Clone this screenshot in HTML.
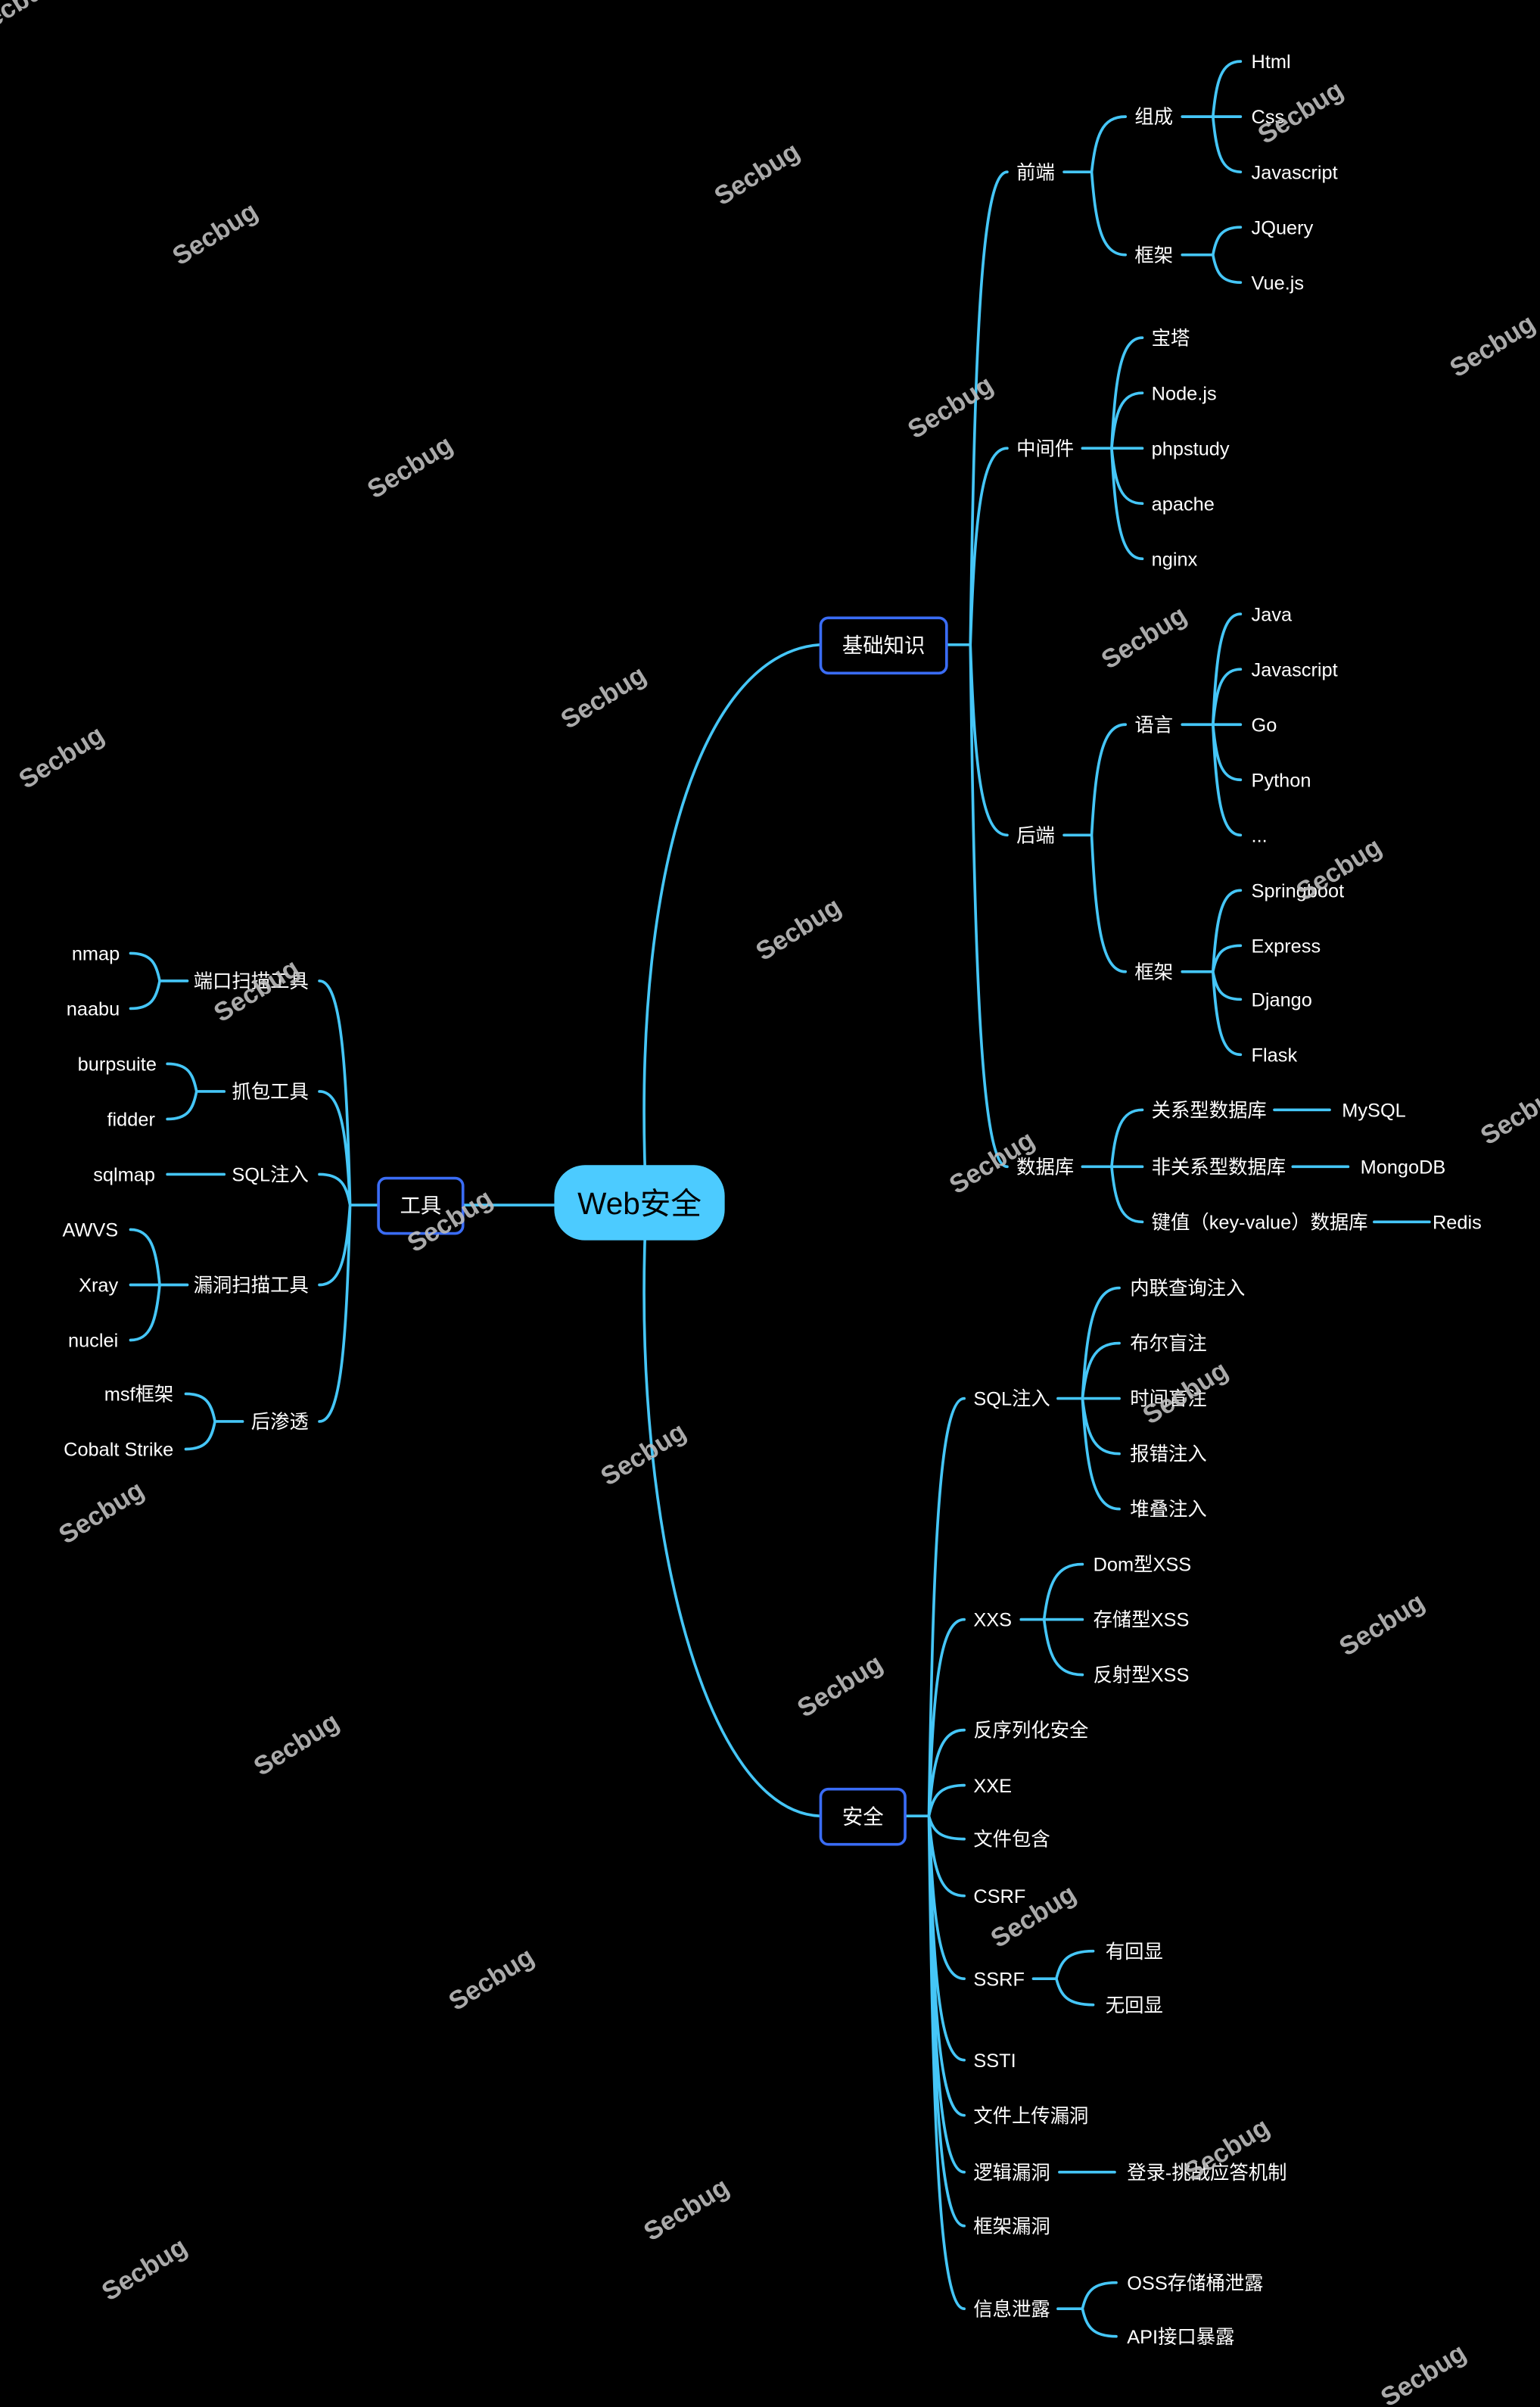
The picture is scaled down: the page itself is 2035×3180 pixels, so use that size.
<!DOCTYPE html>
<html><head><meta charset="utf-8">
<style>
html,body{margin:0;padding:0;background:#000;}
svg{display:block;}
text{font-family:"Liberation Sans","Noto Sans CJK SC",sans-serif;fill:#fff;font-size:12.5px;}
.wm{fill:#bdbdbd;font-weight:bold;font-size:17px;opacity:0.9;}
</style></head>
<body>
<svg id="s" width="2035" height="3180" viewBox="0 0 1003 1568" preserveAspectRatio="none" xmlns="http://www.w3.org/2000/svg">
<rect width="1003" height="1568" fill="#000"/>
<g id="lines" fill="none" stroke="#45c6f7" stroke-width="1.8" stroke-linecap="round"></g>

<!-- nodes -->
<rect x="361" y="759" width="111" height="49" rx="20" fill="#4ccbff"/>
<text x="416.5" y="791" text-anchor="middle" style="fill:#000;font-size:20px">Web安全</text>
<rect x="246.5" y="767.5" width="55" height="36" rx="5" fill="#000" stroke="#3a6cf5" stroke-width="1.8"/>
<text x="274" y="790" text-anchor="middle" style="font-size:13.5px">工具</text>
<rect x="534.5" y="402.5" width="82" height="36" rx="5" fill="#000" stroke="#3a6cf5" stroke-width="1.8"/>
<text x="575.5" y="425" text-anchor="middle" style="font-size:13.5px">基础知识</text>
<rect x="534.5" y="1165.5" width="55" height="36" rx="5" fill="#000" stroke="#3a6cf5" stroke-width="1.8"/>
<text x="562" y="1188" text-anchor="middle" style="font-size:13.5px">安全</text>

<!-- right top labels -->
<g>
<text x="662" y="116.5">前端</text>
<text x="739" y="80.5">组成</text>
<text x="739" y="170.5">框架</text>
<text x="815" y="44.5">Html</text>
<text x="815" y="80.5">Css</text>
<text x="815" y="116.5">Javascript</text>
<text x="815" y="152.5">JQuery</text>
<text x="815" y="188.5">Vue.js</text>
<text x="662" y="296.5">中间件</text>
<text x="750" y="224.5">宝塔</text>
<text x="750" y="260.5">Node.js</text>
<text x="750" y="296.5">phpstudy</text>
<text x="750" y="332.5">apache</text>
<text x="750" y="368.5">nginx</text>
<text x="662" y="548.5">后端</text>
<text x="739" y="476.5">语言</text>
<text x="739" y="637.5">框架</text>
<text x="815" y="404.5">Java</text>
<text x="815" y="440.5">Javascript</text>
<text x="815" y="476.5">Go</text>
<text x="815" y="512.5">Python</text>
<text x="815" y="548.5">...</text>
<text x="815" y="584.5">Springboot</text>
<text x="815" y="620.5">Express</text>
<text x="815" y="655.5">Django</text>
<text x="815" y="691.5">Flask</text>
<text x="662" y="764.5">数据库</text>
<text x="750" y="727.5">关系型数据库</text>
<text x="750" y="764.5">非关系型数据库</text>
<text x="750" y="800.5">键值（key-value）数据库</text>
<text x="874" y="727.5">MySQL</text>
<text x="886" y="764.5">MongoDB</text>
<text x="933" y="800.5">Redis</text>
</g>

<!-- security labels -->
<g>
<text x="634" y="915.5">SQL注入</text>
<text x="736" y="843.5">内联查询注入</text>
<text x="736" y="879.5">布尔盲注</text>
<text x="736" y="915.5">时间盲注</text>
<text x="736" y="951.5">报错注入</text>
<text x="736" y="987.5">堆叠注入</text>
<text x="634" y="1059.5">XXS</text>
<text x="712" y="1023.5">Dom型XSS</text>
<text x="712" y="1059.5">存储型XSS</text>
<text x="712" y="1095.5">反射型XSS</text>
<text x="634" y="1131.5">反序列化安全</text>
<text x="634" y="1167.5">XXE</text>
<text x="634" y="1202.5">文件包含</text>
<text x="634" y="1239.5">CSRF</text>
<text x="634" y="1293.5">SSRF</text>
<text x="720" y="1275.5">有回显</text>
<text x="720" y="1310.5">无回显</text>
<text x="634" y="1346.5">SSTI</text>
<text x="634" y="1382.5">文件上传漏洞</text>
<text x="634" y="1419.5">逻辑漏洞</text>
<text x="734" y="1419.5">登录-挑战应答机制</text>
<text x="634" y="1454.5">框架漏洞</text>
<text x="634" y="1508.5">信息泄露</text>
<text x="734" y="1491.5">OSS存储桶泄露</text>
<text x="734" y="1526.5">API接口暴露</text>
</g>

<!-- left labels -->
<g text-anchor="end">
<text x="201" y="643.5">端口扫描工具</text>
<text x="201" y="715.5">抓包工具</text>
<text x="201" y="769.5">SQL注入</text>
<text x="201" y="841.5">漏洞扫描工具</text>
<text x="201" y="930.5">后渗透</text>
<text x="78" y="625.5">nmap</text>
<text x="78" y="661.5">naabu</text>
<text x="102" y="697.5">burpsuite</text>
<text x="101" y="733.5">fidder</text>
<text x="101" y="769.5">sqlmap</text>
<text x="77" y="805.5">AWVS</text>
<text x="77" y="841.5">Xray</text>
<text x="77" y="877.5">nuclei</text>
<text x="113" y="912.5">msf框架</text>
<text x="113" y="948.5">Cobalt Strike</text>
</g>

<!-- watermarks -->
<g>
<text class="wm" transform="translate(143,157) rotate(-32)" text-anchor="middle">Secbug</text>
<text class="wm" transform="translate(496,118) rotate(-32)" text-anchor="middle">Secbug</text>
<text class="wm" transform="translate(850,78) rotate(-32)" text-anchor="middle">Secbug</text>
<text class="wm" transform="translate(975,230) rotate(-32)" text-anchor="middle">Secbug</text>
<text class="wm" transform="translate(622,270) rotate(-32)" text-anchor="middle">Secbug</text>
<text class="wm" transform="translate(270,309) rotate(-32)" text-anchor="middle">Secbug</text>
<text class="wm" transform="translate(396,459) rotate(-32)" text-anchor="middle">Secbug</text>
<text class="wm" transform="translate(748,420) rotate(-32)" text-anchor="middle">Secbug</text>
<text class="wm" transform="translate(43,498) rotate(-32)" text-anchor="middle">Secbug</text>
<text class="wm" transform="translate(523,610) rotate(-32)" text-anchor="middle">Secbug</text>
<text class="wm" transform="translate(875,571) rotate(-32)" text-anchor="middle">Secbug</text>
<text class="wm" transform="translate(170,650) rotate(-32)" text-anchor="middle">Secbug</text>
<text class="wm" transform="translate(296,800) rotate(-32)" text-anchor="middle">Secbug</text>
<text class="wm" transform="translate(649,762) rotate(-32)" text-anchor="middle">Secbug</text>
<text class="wm" transform="translate(995,730) rotate(-32)" text-anchor="middle">Secbug</text>
<text class="wm" transform="translate(422,952) rotate(-32)" text-anchor="middle">Secbug</text>
<text class="wm" transform="translate(775,912) rotate(-32)" text-anchor="middle">Secbug</text>
<text class="wm" transform="translate(69,990) rotate(-32)" text-anchor="middle">Secbug</text>
<text class="wm" transform="translate(550,1103) rotate(-32)" text-anchor="middle">Secbug</text>
<text class="wm" transform="translate(903,1063) rotate(-32)" text-anchor="middle">Secbug</text>
<text class="wm" transform="translate(196,1141) rotate(-32)" text-anchor="middle">Secbug</text>
<text class="wm" transform="translate(676,1253) rotate(-32)" text-anchor="middle">Secbug</text>
<text class="wm" transform="translate(323,1294) rotate(-32)" text-anchor="middle">Secbug</text>
<text class="wm" transform="translate(802,1405) rotate(-32)" text-anchor="middle">Secbug</text>
<text class="wm" transform="translate(450,1444) rotate(-32)" text-anchor="middle">Secbug</text>
<text class="wm" transform="translate(97,1483) rotate(-32)" text-anchor="middle">Secbug</text>
<text class="wm" transform="translate(930,1552) rotate(-32)" text-anchor="middle">Secbug</text>
<text class="wm" transform="translate(12,8) rotate(-32)" text-anchor="middle">Secbug</text>
</g>
</svg>
<script>
(function(){
var g=document.getElementById('lines'),d='';
function br(xb,yb,x1,y1){var dx=x1-xb,dy=y1-yb;
 if(Math.abs(dy)<0.5){d+='M'+xb+' '+yb+'L'+x1+' '+y1;return;}
 d+='M'+xb+' '+yb+'C'+(xb+0.12*dx)+' '+(yb+0.65*dy)+' '+(xb+0.3*dx)+' '+y1+' '+x1+' '+y1;}
function ln(a,y,b){d+='M'+a+' '+y+'L'+b+' '+y;}
function grp(x0,y0,xb,x1,ys){ln(x0,y0,xb);ys.forEach(function(y){br(xb,y0,x1,y);});}
// center
d+='M420 759C414 560 460 425 534 420';
d+='M420 808C414 1000 460 1180 534 1183';
ln(302,785,361);
// 基础知识
grp(617,420,632,656,[112,292,544,760]);
grp(693,112,711,733,[76,166]);
grp(770,76,790,808,[40,76,112]);
grp(770,166,790,808,[148,184]);
grp(705,292,724,744,[220,256,292,328,364]);
grp(693,544,711,733,[472,633]);
grp(770,472,790,808,[400,436,472,508,544]);
grp(770,633,790,808,[580,616,651,687]);
grp(705,760,724,744,[723,760,796]);
ln(830,723,866);ln(842,760,878);ln(895,796,931);
// 安全
grp(590,1183,605,628,[911,1055,1127,1163,1198,1235,1289,1342,1378,1415,1450,1504]);
grp(689,911,705,729,[839,875,911,947,983]);
grp(665,1055,680,705,[1019,1055,1091]);
grp(673,1289,688,712,[1271,1306]);
ln(690,1415,726);
grp(689,1504,705,727,[1487,1522]);
// 工具 (left)
grp(246,785,228,208,[639,711,765,837,926]);
grp(122,639,104,85,[621,657]);
grp(146,711,128,109,[693,729]);
ln(146,765,109);
grp(122,837,104,85,[801,837,873]);
grp(158,926,140,121,[908,944]);
var p=document.createElementNS('http://www.w3.org/2000/svg','path');p.setAttribute('d',d);g.appendChild(p);
})();
</script>
</body></html>
